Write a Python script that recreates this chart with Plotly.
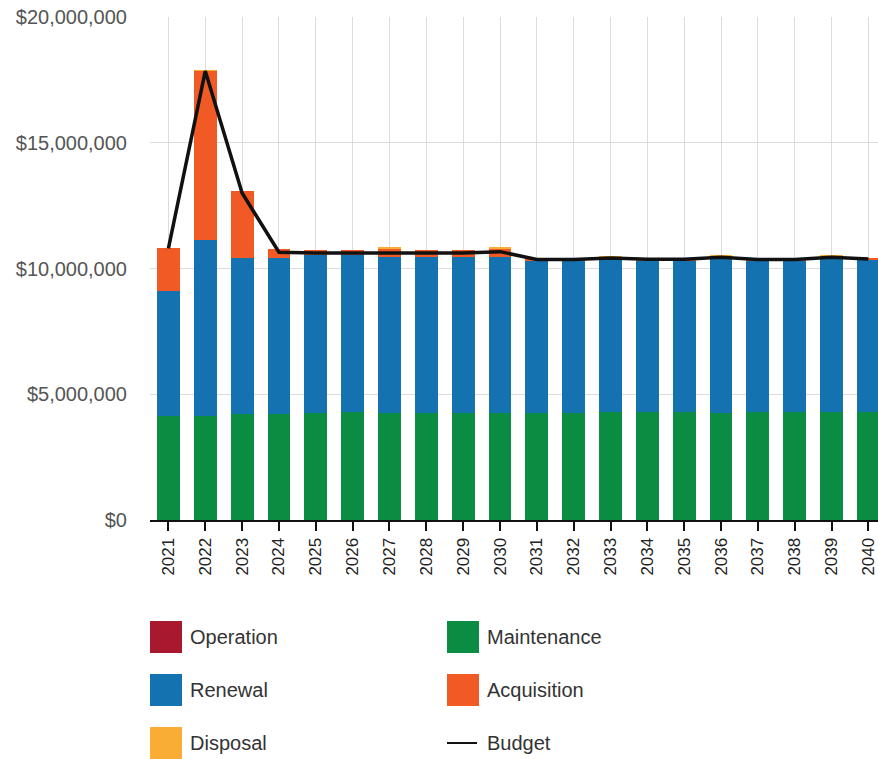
import plotly.graph_objects as go

# ---- data (AUD per year) -------------------------------------------------
years = ["2021", "2022", "2023", "2024", "2025", "2026", "2027", "2028", "2029", "2030",
         "2031", "2032", "2033", "2034", "2035", "2036", "2037", "2038", "2039", "2040"]

operation = [0, 0, 0, 0, 0, 0, 0, 0, 0, 0,
             0, 0, 0, 0, 0, 0, 0, 0, 0, 0]
maintenance = [4150000, 4150000, 4200000, 4200000, 4250000, 4300000, 4250000, 4250000, 4250000, 4250000,
               4270000, 4270000, 4300000, 4280000, 4280000, 4250000, 4280000, 4280000, 4280000, 4300000]
renewal = [4970000, 6970000, 6200000, 6220000, 6300000, 6250000, 6200000, 6200000, 6200000, 6200000,
           6050000, 6050000, 6100000, 6050000, 6050000, 6170000, 6040000, 6040000, 6140000, 6050000]
acquisition = [1680000, 6740000, 2680000, 360000, 170000, 170000, 340000, 300000, 300000, 340000,
               40000, 40000, 60000, 40000, 40000, 60000, 40000, 40000, 60000, 40000]
disposal = [0, 30000, 0, 0, 0, 0, 40000, 0, 0, 30000,
            0, 0, 30000, 0, 0, 30000, 0, 0, 30000, 0]
budget = [10800000, 17850000, 13000000, 10650000, 10620000, 10620000, 10650000, 10620000, 10620000, 10670000,
          10360000, 10360000, 10420000, 10370000, 10370000, 10450000, 10360000, 10360000, 10450000, 10380000]

y_ticks = [0, 5000000, 10000000, 15000000, 20000000]
y_tick_text = ["$0", "$5,000,000", "$10,000,000", "$15,000,000", "$20,000,000"]

series = [
    ("Operation", operation, "#a8192f"),
    ("Maintenance", maintenance, "#0a8c42"),
    ("Renewal", renewal, "#1572b0"),
    ("Acquisition", acquisition, "#f15a24"),
    ("Disposal", disposal, "#f9ad34"),
]
budget_name, budget_color = "Budget", "#111111"

FONT = "Liberation Sans, Arial, sans-serif"
W, H = 878, 759
ML, MT, MB, MR = 150, 17, 239, 0

fig = go.Figure()
for name, vals, color in series:
    fig.add_trace(go.Bar(x=years, y=vals, name=name, marker_color=color,
                         marker_line_width=0, showlegend=False))
fig.add_trace(go.Scatter(x=years, y=budget, name=budget_name, mode="lines",
                         line=dict(color=budget_color, width=3.5), showlegend=False))

fig.update_layout(
    width=W, height=H,
    margin=dict(l=ML, r=MR, t=MT, b=MB, pad=0),
    barmode="stack", bargap=0.38,
    plot_bgcolor="white", paper_bgcolor="white",
    font=dict(family=FONT, color="#333333"),
)
fig.update_xaxes(
    type="category", range=[-0.5, 19.26],
    showgrid=True, gridcolor="#dcdcdc", gridwidth=1,
    showline=True, linecolor="#111111", linewidth=2,
    ticks="outside", ticklen=9, tickcolor="#111111", tickwidth=1.5,
    tickangle=-90, tickfont=dict(size=17, color="#222222", family=FONT),
    ticklabelstandoff=0,
)
fig.update_yaxes(
    range=[0, 20000000], tickvals=y_ticks, ticktext=y_tick_text,
    showgrid=True, gridcolor="#dcdcdc", gridwidth=1,
    zeroline=False, showline=False, ticks="",
    tickfont=dict(size=20, color="#555555", family=FONT),
    ticklabelstandoff=22,
)

# ---- legend: two columns of swatches below the plot -----------------------
plot_w = W - ML - MR
plot_h = H - MT - MB


def px_x(px):
    return (px - ML) / plot_w


def px_y(py):
    return (H - MB - py) / plot_h


legend_items = [(n, c, "box") for n, _, c in series] + [(budget_name, budget_color, "line")]
col_x = [150, 447]
row_y = [637, 690, 743]
sw = 32
for i, (name, color, kind) in enumerate(legend_items):
    cx = col_x[i % 2]
    cy = row_y[i // 2]
    if kind == "box":
        fig.add_shape(type="rect", xref="paper", yref="paper",
                      x0=px_x(cx), x1=px_x(cx + sw), y0=px_y(cy - sw / 2), y1=px_y(cy + sw / 2),
                      fillcolor=color, line_width=0)
    else:
        fig.add_shape(type="line", xref="paper", yref="paper",
                      x0=px_x(cx), x1=px_x(cx + 30), y0=px_y(cy), y1=px_y(cy),
                      line=dict(color=color, width=2))
    fig.add_annotation(text=name, xref="paper", yref="paper",
                       x=px_x(cx + 38), y=px_y(cy), xanchor="left", yanchor="middle",
                       showarrow=False, font=dict(size=20, color="#333333", family=FONT))

fig.write_html("out.html")
